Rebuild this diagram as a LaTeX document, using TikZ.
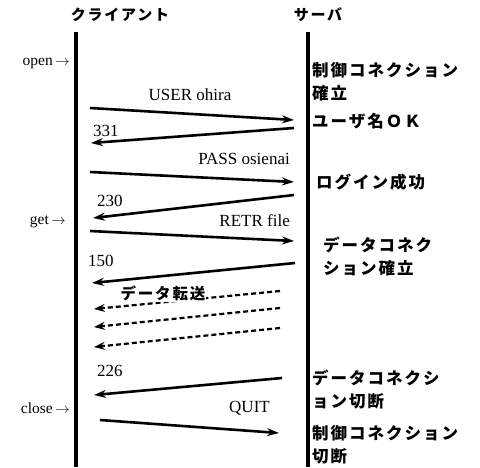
\documentclass[tikz,border=0pt]{standalone}
\usepackage{fontspec}
\setmainfont{Liberation Serif}
\newfontfamily\jpfont[LetterSpace=12]{Noto Sans CJK JP}
\usetikzlibrary{arrows.meta}
\begin{document}
\begin{tikzpicture}[x=1pt,y=-1pt,
  life/.style={line width=4pt},
  msg/.style={line width=2.6pt,-{Stealth[length=12pt,width=8pt,inset=4pt]}},
  dmsg/.style={line width=2.2pt,dash pattern=on 5pt off 3pt,-{Stealth[length=11pt,width=8pt,inset=4pt]}},
  lat/.style={inner sep=0pt,font=\fontsize{17}{18}\selectfont},
  side/.style={inner sep=0pt,font=\fontsize{15.5}{16}\selectfont},
  jp/.style={inner sep=0pt,anchor=west,font=\jpfont\bfseries\fontsize{16.5}{17}\selectfont},
  hd/.style={inner sep=0pt,font=\jpfont\bfseries\fontsize{15}{16}\selectfont}]
\useasboundingbox (0,0) rectangle (480,467);
% headers
\node[hd] (cl) at (120,15) {クライアント};
\node[hd] (sv) at (318,15) {サーバ};
% lifelines
\coordinate (ctop) at (76,32); \coordinate (cbot) at (76,467);
\coordinate (stop) at (308,32); \coordinate (sbot) at (308,467);
\draw[life] (ctop) -- (cbot);
\draw[life] (stop) -- (sbot);
% left events
\node[side,anchor=east] (open) at (70,63) {open\,$\rightarrow$};
\node[side,anchor=east] (get) at (66,222) {get\,$\rightarrow$};
\node[side,anchor=east] (close) at (70,408) {close\,$\rightarrow$};
% message endpoints
\coordinate (a1) at (90,108); \coordinate (b1) at (294,120);
\coordinate (a2) at (294,128); \coordinate (b2) at (91,143);
\coordinate (a3) at (90,172); \coordinate (b3) at (294,182);
\coordinate (a4) at (294,195); \coordinate (b4) at (93,218);
\coordinate (a5) at (90,231); \coordinate (b5) at (294,241);
\coordinate (a6) at (295,263); \coordinate (b6) at (92,283);
\coordinate (d1a) at (280,291); \coordinate (d1b) at (94,309);
\coordinate (d2a) at (280,308); \coordinate (d2b) at (94,327);
\coordinate (d3a) at (280,328); \coordinate (d3b) at (94,347);
\coordinate (a7) at (282,378); \coordinate (b7) at (94,395);
\coordinate (a8) at (100,420); \coordinate (b8) at (279,433);
\draw[msg] (a1) -- (b1);
\draw[msg] (a2) -- (b2);
\draw[msg] (a3) -- (b3);
\draw[msg] (a4) -- (b4);
\draw[msg] (a5) -- (b5);
\draw[msg] (a6) -- (b6);
\draw[dmsg] (d1a) -- (d1b);
\draw[dmsg] (d2a) -- (d2b);
\draw[dmsg] (d3a) -- (d3b);
\draw[msg] (a7) -- (b7);
\draw[msg] (a8) -- (b8);
% message labels
\node[lat] (l1) at (190,95) {USER ohira};
\node[lat,anchor=west] (l2) at (93,131) {331};
\node[lat,anchor=east] (l3) at (290,159) {PASS osienai};
\node[lat,anchor=west] (l4) at (97,201) {230};
\node[lat,anchor=east] (l5) at (290,221) {RETR file};
\node[lat,anchor=west] (l6) at (88,261) {150};
\node[inner sep=1pt,fill=white,font=\jpfont\bfseries\fontsize{15.5}{16}\selectfont] (l7) at (163,293) {データ転送};
\node[lat,anchor=west] (l8) at (97,371) {226};
\node[lat,anchor=east] (l9) at (270,408) {QUIT};
% server side notes
\node[jp] (n1) at (312,70) {制御コネクション};
\node[jp] (n1b) at (312,93) {確立};
\node[jp] (n2) at (312,121) {ユーザ名ＯＫ};
\node[jp] (n3) at (316,182) {ログイン成功};
\node[jp] (n4) at (323,245) {データコネク};
\node[jp] (n4b) at (323,268) {ション確立};
\node[jp] (n5) at (312,378) {データコネクシ};
\node[jp] (n5b) at (312,401) {ョン切断};
\node[jp] (n6) at (312,433) {制御コネクション};
\node[jp] (n6b) at (312,456) {切断};
\end{tikzpicture}
\end{document}
